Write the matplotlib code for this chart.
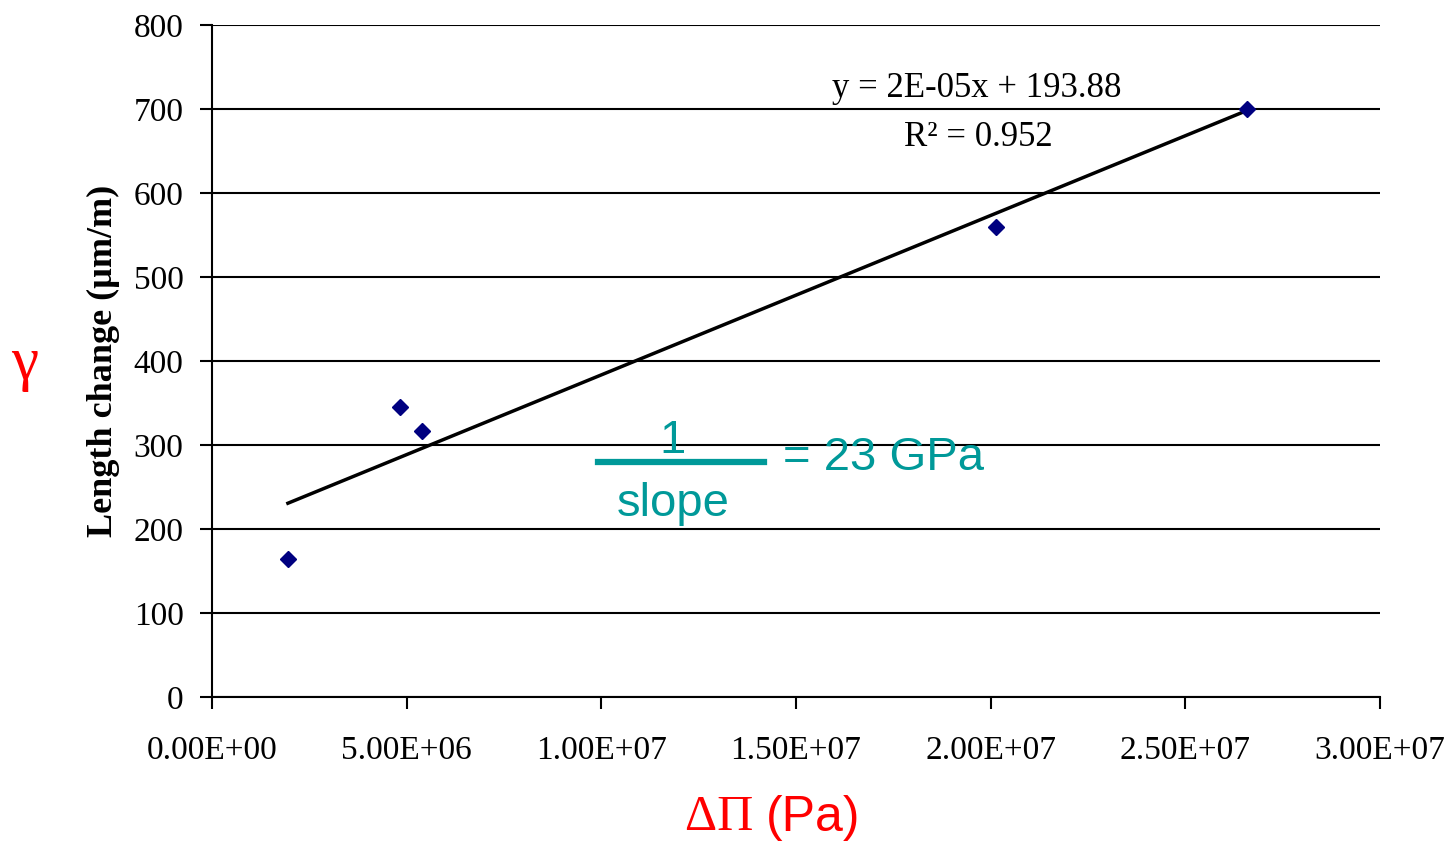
import numpy as np
import matplotlib
matplotlib.use('Agg')
import matplotlib.pyplot as plt
from matplotlib.lines import Line2D

# data
delta_pi = [1.95e6, 4.83e6, 5.39e6, 2.014e7, 2.658e7]      # Pa
length_change = [164, 345, 317, 560, 700]                   # um/m
x_ticks = [0, 5e6, 1e7, 1.5e7, 2e7, 2.5e7, 3e7]
x_tick_labels = ['0.00E+00', '5.00E+06', '1.00E+07', '1.50E+07',
                 '2.00E+07', '2.50E+07', '3.00E+07']
y_ticks = [0, 100, 200, 300, 400, 500, 600, 700, 800]

serif = 'Liberation Serif'
sans = 'Liberation Sans'
teal = '#009999'

fig = plt.figure(figsize=(14.53, 8.44), dpi=100)
ax = fig.add_axes([0.1459, 0.1742, 0.8039, 0.7962])

# linear trendline
slope, intercept = np.polyfit(delta_pi, length_change, 1)
xs = np.array([min(delta_pi), max(delta_pi)])
ax.plot(xs, slope * xs + intercept, color='black', lw=2.5, zorder=3)

ax.plot(delta_pi, length_change, 'D', color='#000080', markersize=8, zorder=4)

ax.set_xlim(0, 3e7)
ax.set_ylim(0, 800)
ax.set_xticks(x_ticks)
ax.set_xticklabels(x_tick_labels)
ax.set_yticks(y_ticks)
ax.yaxis.grid(True, color='black', lw=1.5)
ax.set_axisbelow(True)
for s in ['top', 'right']:
    ax.spines[s].set_visible(False)
for s in ['left', 'bottom']:
    ax.spines[s].set_linewidth(1.5)
ax.tick_params(axis='both', direction='out', width=1.5, length=8.5, labelsize=24)
ax.tick_params(axis='y', pad=12)
ax.tick_params(axis='x', pad=19)
for lbl in ax.get_xticklabels() + ax.get_yticklabels():
    lbl.set_family(serif)

ax.set_ylabel('Length change (\u00b5m/m)', family=serif, weight='bold',
              fontsize=26, labelpad=10)

ax.text(0.655, 0.905, 'y = 2E-05x + 193.88', transform=ax.transAxes,
        ha='center', va='center', family=serif, fontsize=25)
ax.text(0.656, 0.833, 'R\u00b2 = 0.952', transform=ax.transAxes,
        ha='center', va='center', family=serif, fontsize=25)

# red axis symbols
fig.text(0.017, 0.568, '\u03b3', color='red', family=serif, fontsize=44,
         ha='center', va='center')
fig.text(0.527, 0.031, '\u0394\u03a0 ', color='red', family=serif, fontsize=36,
         ha='right', va='center')
fig.text(0.527, 0.031, '(Pa)', color='red', family=sans, fontsize=36,
         ha='left', va='center')

# 1/slope annotation
fig.text(0.4625, 0.478, '1', color=teal, family=sans, fontsize=34,
         ha='center', va='center')
fig.add_artist(Line2D([0.4115, 0.5258], [0.4526, 0.4526], color=teal, lw=4.5,
                      transform=fig.transFigure))
fig.text(0.4635, 0.403, 'slope', color=teal, family=sans, fontsize=34,
         ha='center', va='center')
fig.text(0.539, 0.457, '= 23 GPa', color=teal, family=sans, fontsize=34,
         ha='left', va='center')

fig.savefig('out.png', dpi=100, facecolor='white')
